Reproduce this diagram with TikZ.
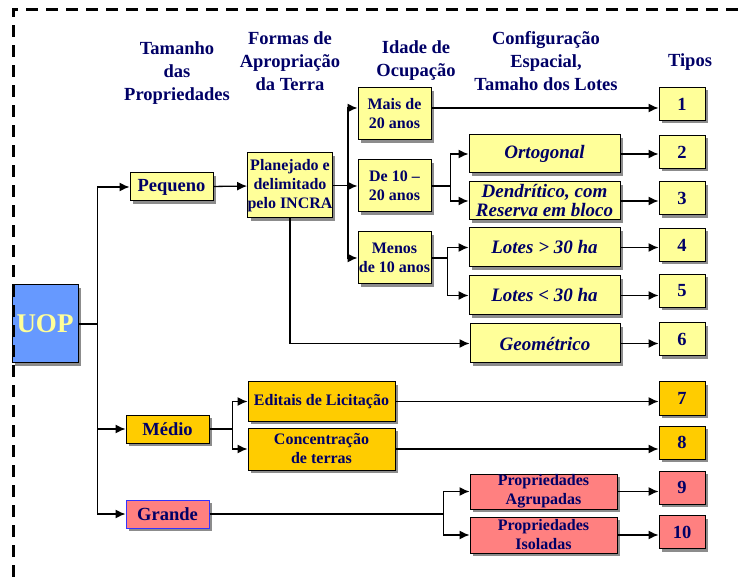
\documentclass[tikz,border=0pt]{standalone}
\usepackage{fontspec}
\setmainfont{Liberation Serif}
\usetikzlibrary{arrows.meta,shadows}

\definecolor{navy}{RGB}{0,0,102}
\definecolor{amarelo}{RGB}{255,255,153}
\definecolor{ouro}{RGB}{255,204,0}
\definecolor{rosa}{RGB}{255,128,128}
\definecolor{azul}{RGB}{102,153,255}

\begin{document}
\begin{tikzpicture}[x=1pt, y=-1pt,
    >={Latex[length=10pt,width=9pt]},
    caixa/.style={draw, line width=1pt, inner sep=0pt, align=center, text=navy,
        font=\bfseries\fontsize{16}{19}\selectfont,
        drop shadow={shadow xshift=3pt, shadow yshift=-3pt, fill=black!45, opacity=1}},
    grossa/.style={font=\bfseries\fontsize{18.5}{22}\selectfont},
    italica/.style={font=\bfseries\itshape\fontsize{19}{19}\selectfont},
    titulo/.style={align=center, text=navy, inner sep=0pt, font=\bfseries\fontsize{18.5}{23}\selectfont},
    seta/.style={->, line width=1.3pt}]
    \useasboundingbox (0,0) rectangle (742,577);

    % cabecalhos
    \node[titulo] (h1) at (177,73) {Tamanho\\das\\Propriedades};
    \node[titulo] (h2) at (290,61) {Formas de\\Apropriação\\da Terra};
    \node[titulo] (h3) at (416,61) {Idade de\\Ocupação};
    \node[titulo] (h4) at (546,61) {Configuração\\Espacial,\\Tamaho dos Lotes};
    \node[titulo] (h5) at (690,62) {Tipos};

    % nivel 0 e 1
    \node[caixa, fill=azul, minimum width=66, minimum height=78, text=amarelo,
        font=\bfseries\fontsize{27}{30}\selectfont] (uop) at (45,324) {UOP};
    \node[caixa, grossa, fill=amarelo, minimum width=83, minimum height=28] (peq) at (171.5,187) {Pequeno};
    \node[caixa, grossa, fill=ouro, minimum width=83, minimum height=28] (med) at (167.5,429) {Médio};
    \node[caixa, grossa, fill=rosa, draw=blue!80, minimum width=83, minimum height=28] (gra) at (167.5,514) {Grande};

    % formas de apropriacao
    \node[caixa, fill=amarelo, minimum width=84, minimum height=65] (plan) at (290,185.5) {Planejado e\\delimitado\\pelo INCRA};
    \node[caixa, fill=ouro, minimum width=147, minimum height=39] (edi) at (321.5,401.5) {Editais de Licitação};
    \node[caixa, fill=ouro, minimum width=147, minimum height=42] (con) at (321.5,449) {Concentração\\de terras};

    % idade
    \node[caixa, fill=amarelo, minimum width=73, minimum height=52] (mais) at (394.5,114) {Mais de\\20 anos};
    \node[caixa, fill=amarelo, minimum width=73, minimum height=52] (de10) at (394.5,186) {De 10 --\\20 anos};
    \node[caixa, fill=amarelo, minimum width=73, minimum height=52] (menos) at (394.5,258) {Menos\\de 10 anos};

    % configuracao
    \node[caixa, italica, fill=amarelo, minimum width=151, minimum height=38] (orto) at (544.5,154) {Ortogonal};
    \node[caixa, italica, fill=amarelo, minimum width=151, minimum height=38] (dend) at (544.5,201) {Dendrítico, com\\Reserva em bloco};
    \node[caixa, italica, fill=amarelo, minimum width=151, minimum height=39] (lmai) at (544.5,247.5) {Lotes > 30 ha};
    \node[caixa, italica, fill=amarelo, minimum width=151, minimum height=39] (lmen) at (544.5,295.5) {Lotes < 30 ha};
    \node[caixa, italica, fill=amarelo, minimum width=150, minimum height=39] (geo) at (545,343.5) {Geométrico};
    \node[caixa, fill=rosa, minimum width=147, minimum height=35] (agr) at (543.5,491.5) {Propriedades\\Agrupadas};
    \node[caixa, fill=rosa, minimum width=147, minimum height=36] (iso) at (543.5,535) {Propriedades\\Isoladas};

    % tipos
    \node[caixa, grossa, fill=amarelo, minimum width=46, minimum height=33] (t1) at (682,104) {1};
    \node[caixa, grossa, fill=amarelo, minimum width=46, minimum height=33] (t2) at (682,152) {2};
    \node[caixa, grossa, fill=amarelo, minimum width=46, minimum height=33] (t3) at (682,198.5) {3};
    \node[caixa, grossa, fill=amarelo, minimum width=46, minimum height=33] (t4) at (682,245) {4};
    \node[caixa, grossa, fill=amarelo, minimum width=46, minimum height=33] (t5) at (682,291) {5};
    \node[caixa, grossa, fill=amarelo, minimum width=46, minimum height=33] (t6) at (682,339.5) {6};
    \node[caixa, grossa, fill=ouro, minimum width=46, minimum height=33] (t7) at (682,398.5) {7};
    \node[caixa, grossa, fill=ouro, minimum width=46, minimum height=33] (t8) at (682,442.5) {8};
    \node[caixa, grossa, fill=rosa, minimum width=46, minimum height=33] (t9) at (682,487.5) {9};
    \node[caixa, grossa, fill=rosa, minimum width=46, minimum height=33] (t10) at (682,532) {10};

    % ligacoes
    \draw[seta] (uop.east) -- ++(19,0) |- (peq.west);
    \draw[seta] (uop.east) -- ++(19,0) |- (med.west);
    \draw[seta] (uop.east) -- ++(19,0) |- (gra.west);
    \draw[seta] (peq) -- (plan);
    \draw[seta] (plan.east) -- ++(15,0) |- ([yshift=6pt]mais.west);
    \draw[seta] (plan.east) -- ++(15,0) |- (de10.west);
    \draw[seta] (plan.east) -- ++(15,0) |- (menos.west);
    \draw[seta] (plan.south) |- (geo.west);
    \draw[seta] (de10.east) -- ++(19,0) |- (orto.west);
    \draw[seta] (de10.east) -- ++(19,0) |- (dend.west);
    \draw[seta] (menos.east) -- ++(16,0) |- (lmai.west);
    \draw[seta] (menos.east) -- ++(16,0) |- (lmen.west);
    \draw[seta] ([yshift=6pt]mais.east) -- ([yshift=6pt]mais.east -| t1.west);
    \draw[seta] (orto) -- (orto -| t2.west);
    \draw[seta] (dend) -- (dend -| t3.west);
    \draw[seta] (lmai) -- (lmai -| t4.west);
    \draw[seta] (lmen) -- (lmen -| t5.west);
    \draw[seta] (geo) -- (geo -| t6.west);
    \draw[seta] (med.east) -- ++(23,0) |- (edi.west);
    \draw[seta] (med.east) -- ++(23,0) |- (con.west);
    \draw[seta] (edi) -- (edi -| t7.west);
    \draw[seta] (con) -- (con -| t8.west);
    \draw[seta] (gra.east) -- ++(234,0) |- (agr.west);
    \draw[seta] (gra.east) -- ++(234,0) |- (iso.west);
    \draw[seta] (agr) -- (agr -| t9.west);
    \draw[seta] (iso) -- (iso -| t10.west);

    % moldura tracejada
    \draw[line width=3pt, dash pattern=on 12pt off 8pt] (13,577) -- (13,10) -- (742,10);
\end{tikzpicture}
\end{document}
